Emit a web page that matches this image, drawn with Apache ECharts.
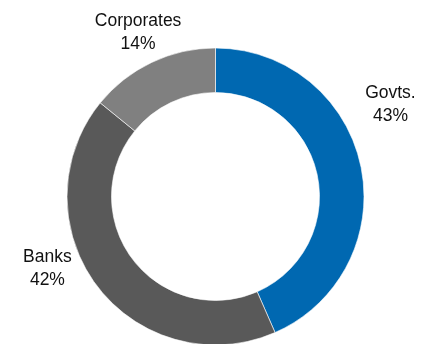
<!DOCTYPE html>
<html>
<head>
<meta charset="utf-8">
<script src="https://cdn.jsdelivr.net/npm/echarts@6/dist/echarts.min.js"></script>
<style>
  html, body { margin: 0; padding: 0; background: #fff; }
  #chart { width: 433px; height: 344px; }
</style>
</head>
<body>
<div id="chart"></div>
<script>
// Holdings by investor type, in percent
const categories = ['Govts.', 'Banks', 'Corporates'];
const shares = [43, 42, 14];
const colors = ['#0068B1', '#595959', '#808080'];

// Small per-label nudges (px) applied after ECharts places the outside labels
const labelNudges = [[5, -57], [-29, -30], [0, -12]];

const chart = echarts.init(document.getElementById('chart'));
chart.setOption({
  animation: false,
  series: [{
    type: 'pie',
    center: [215.5, 196.5],
    radius: [104, 148.5],
    startAngle: 90,
    clockwise: true,
    avoidLabelOverlap: false,
    itemStyle: { borderColor: '#ffffff', borderWidth: 0.6 },
    label: {
      show: true,
      position: 'outside',
      formatter: function (p) { return p.name + '\n' + p.value + '%'; },
      fontFamily: 'Liberation Sans, Arial, sans-serif',
      fontSize: 17.5,
      lineHeight: 23,
      color: '#111111'
    },
    labelLine: { show: false, length: 20, length2: 0 },
    labelLayout: function (params) {
      const n = labelNudges[params.dataIndex];
      return { align: 'center', dx: n[0], dy: n[1] };
    },
    emphasis: { disabled: true },
    data: categories.map((name, i) => ({
      name: name,
      value: shares[i],
      itemStyle: { color: colors[i] }
    }))
  }]
});
</script>
</body>
</html>
